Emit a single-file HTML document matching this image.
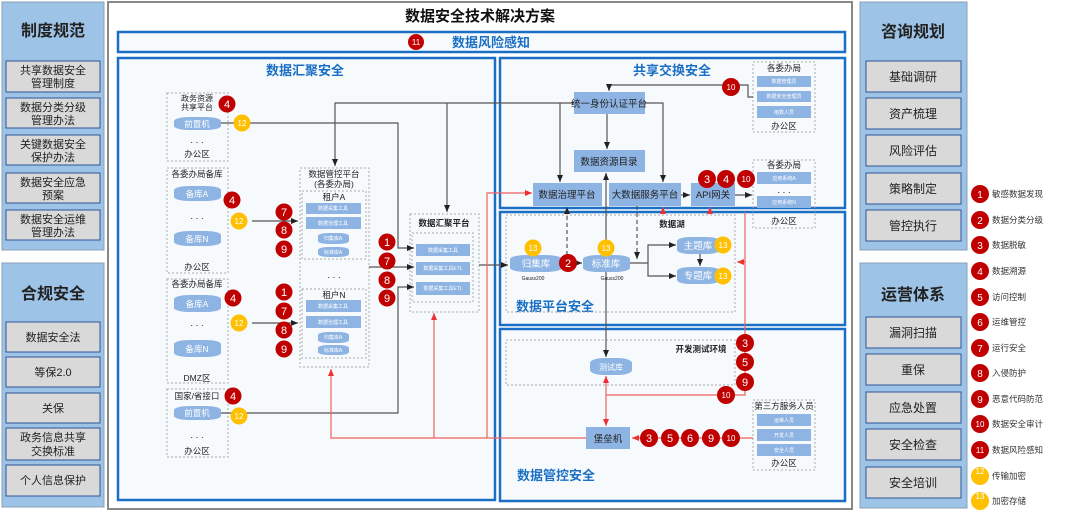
<!DOCTYPE html>
<html><head><meta charset="utf-8"><style>
html,body{margin:0;padding:0;background:#fff;}
svg{display:block;font-family:"Liberation Sans","Noto Sans CJK SC",sans-serif;}
</style></head><body>
<svg width="1080" height="517" viewBox="0 0 1080 517" xmlns="http://www.w3.org/2000/svg">
<defs>
<marker id="a" markerWidth="8" markerHeight="8" refX="7" refY="4" orient="auto" markerUnits="userSpaceOnUse"><path d="M0,1 L7,4 L0,7 z" fill="#222"/></marker>
<marker id="r" markerWidth="8" markerHeight="8" refX="7" refY="4" orient="auto" markerUnits="userSpaceOnUse"><path d="M0,1 L7,4 L0,7 z" fill="#f03030"/></marker>
</defs>
<rect width="1080" height="517" fill="#fff"/>

<!-- Left panels -->
<g font-size="11" fill="#222" text-anchor="middle">
<rect x="2" y="2" width="102" height="248" fill="#9dc3e6" stroke="#8aa0b8"/>
<text x="53" y="36" font-size="16" font-weight="bold">制度规范</text>
<rect x="6" y="61" width="94" height="31" fill="#d9d9d9" stroke="#2f5597"/><text x="53" y="74">共享数据安全</text><text x="53" y="87">管理制度</text>
<rect x="6" y="98" width="94" height="30" fill="#d9d9d9" stroke="#2f5597"/><text x="53" y="111">数据分类分级</text><text x="53" y="124">管理办法</text>
<rect x="6" y="135" width="94" height="30" fill="#d9d9d9" stroke="#2f5597"/><text x="53" y="148">关键数据安全</text><text x="53" y="161">保护办法</text>
<rect x="6" y="173" width="94" height="30" fill="#d9d9d9" stroke="#2f5597"/><text x="53" y="186">数据安全应急</text><text x="53" y="199">预案</text>
<rect x="6" y="210" width="94" height="30" fill="#d9d9d9" stroke="#2f5597"/><text x="53" y="223">数据安全运维</text><text x="53" y="236">管理办法</text>

<rect x="2" y="263" width="102" height="244" fill="#9dc3e6" stroke="#8aa0b8"/>
<text x="53" y="299" font-size="16" font-weight="bold">合规安全</text>
<rect x="6" y="322" width="94" height="30" fill="#d9d9d9" stroke="#2f5597"/><text x="53" y="341">数据安全法</text>
<rect x="6" y="357" width="94" height="30" fill="#d9d9d9" stroke="#2f5597"/><text x="53" y="376">等保2.0</text>
<rect x="6" y="393" width="94" height="30" fill="#d9d9d9" stroke="#2f5597"/><text x="53" y="412">关保</text>
<rect x="6" y="428" width="94" height="32" fill="#d9d9d9" stroke="#2f5597"/><text x="53" y="441">政务信息共享</text><text x="53" y="455">交换标准</text>
<rect x="6" y="465" width="94" height="31" fill="#d9d9d9" stroke="#2f5597"/><text x="53" y="484">个人信息保护</text>

<!-- Right panels -->
<rect x="860" y="2" width="107" height="248" fill="#9dc3e6" stroke="#8aa0b8"/>
<text x="913" y="37" font-size="16" font-weight="bold">咨询规划</text>
<rect x="866" y="61" width="95" height="31" fill="#d9d9d9" stroke="#2f5597"/><text x="913" y="81" font-size="12">基础调研</text>
<rect x="866" y="98" width="95" height="31" fill="#d9d9d9" stroke="#2f5597"/><text x="913" y="118" font-size="12">资产梳理</text>
<rect x="866" y="135" width="95" height="31" fill="#d9d9d9" stroke="#2f5597"/><text x="913" y="155" font-size="12">风险评估</text>
<rect x="866" y="173" width="95" height="31" fill="#d9d9d9" stroke="#2f5597"/><text x="913" y="193" font-size="12">策略制定</text>
<rect x="866" y="210" width="95" height="31" fill="#d9d9d9" stroke="#2f5597"/><text x="913" y="230" font-size="12">管控执行</text>

<rect x="860" y="263" width="107" height="245" fill="#9dc3e6" stroke="#8aa0b8"/>
<text x="913" y="300" font-size="16" font-weight="bold">运营体系</text>
<rect x="866" y="317" width="95" height="31" fill="#d9d9d9" stroke="#2f5597"/><text x="913" y="337" font-size="12">漏洞扫描</text>
<rect x="866" y="354" width="95" height="31" fill="#d9d9d9" stroke="#2f5597"/><text x="913" y="374" font-size="12">重保</text>
<rect x="866" y="392" width="95" height="31" fill="#d9d9d9" stroke="#2f5597"/><text x="913" y="412" font-size="12">应急处置</text>
<rect x="866" y="429" width="95" height="31" fill="#d9d9d9" stroke="#2f5597"/><text x="913" y="449" font-size="12">安全检查</text>
<rect x="866" y="467" width="95" height="31" fill="#d9d9d9" stroke="#2f5597"/><text x="913" y="487" font-size="12">安全培训</text>
</g>

<!-- Legend -->
<g font-size="8.5" fill="#333">
<g fill="#c00000"><circle cx="980" cy="194" r="9"/><circle cx="980" cy="220" r="9"/><circle cx="980" cy="245" r="9"/><circle cx="980" cy="271" r="9"/><circle cx="980" cy="297" r="9"/><circle cx="980" cy="322" r="9"/><circle cx="980" cy="348" r="9"/><circle cx="980" cy="373" r="9"/><circle cx="980" cy="399" r="9"/><circle cx="980" cy="424" r="9"/><circle cx="980" cy="450" r="9"/></g>
<g fill="#ffc000"><circle cx="980" cy="476" r="9"/><circle cx="980" cy="501" r="9"/></g>
<g fill="#fff" text-anchor="middle" font-size="10"><text x="980" y="198">1</text><text x="980" y="224">2</text><text x="980" y="249">3</text><text x="980" y="275">4</text><text x="980" y="301">5</text><text x="980" y="326">6</text><text x="980" y="352">7</text><text x="980" y="377">8</text><text x="980" y="403">9</text><text x="980" y="427" font-size="8">10</text><text x="980" y="453" font-size="8">11</text><text x="980" y="474" font-size="8">12</text><text x="980" y="499" font-size="8">13</text></g>
<text x="992" y="197">敏感数据发现</text><text x="992" y="223">数据分类分级</text><text x="992" y="248">数据脱敏</text><text x="992" y="274">数据溯源</text><text x="992" y="300">访问控制</text><text x="992" y="325">运维管控</text><text x="992" y="351">运行安全</text><text x="992" y="376">入侵防护</text><text x="992" y="402">恶意代码防范</text><text x="992" y="427">数据安全审计</text><text x="992" y="453">数据风险感知</text><text x="992" y="479">传输加密</text><text x="992" y="504">加密存储</text>
</g>

<!-- Main frame -->
<rect x="108" y="2" width="744" height="507" fill="#fff" stroke="#888" stroke-width="2"/>
<text x="480" y="21" font-size="15" font-weight="bold" text-anchor="middle" fill="#111">数据安全技术解决方案</text>
<rect x="118" y="32" width="727" height="20" fill="#f7fafd" stroke="#1a6fc4" stroke-width="2.5"/>
<circle cx="416" cy="42" r="8" fill="#c00000"/><text x="416" y="45" font-size="8" fill="#fff" text-anchor="middle">11</text>
<text x="491" y="47" font-size="13" font-weight="bold" fill="#1a6fc4" text-anchor="middle">数据风险感知</text>

<!-- sections -->
<g fill="#f7fafd" stroke="#1a6fc4" stroke-width="2.5">
<rect x="118" y="58" width="377" height="442"/>
<rect x="500" y="58" width="345" height="150"/>
<rect x="500" y="212" width="345" height="113"/>
<rect x="500" y="329" width="345" height="172"/>
</g>
<g font-size="13" font-weight="bold" fill="#1a6fc4" text-anchor="middle">
<text x="305" y="75">数据汇聚安全</text><text x="672" y="75">共享交换安全</text><text x="555" y="311">数据平台安全</text><text x="556" y="480">数据管控安全</text>
</g>

<!-- dotted boxes -->
<g fill="none" stroke="#aaa" stroke-dasharray="2,2" stroke-width="1">
<rect x="167" y="93" width="61" height="68"/>
<rect x="167" y="168" width="61" height="105"/>
<rect x="167" y="279" width="61" height="104"/>
<rect x="167" y="389" width="61" height="68"/>
<rect x="300" y="168" width="69" height="199"/>
<rect x="302" y="191" width="64" height="68"/>
<rect x="302" y="289" width="64" height="69"/>
<rect x="410" y="214" width="69" height="98"/>
<rect x="412" y="233" width="61" height="69"/>
<rect x="753" y="62" width="62" height="70"/>
<rect x="753" y="160" width="62" height="68"/>
<rect x="506" y="215" width="229" height="97"/>
<rect x="506" y="340" width="229" height="45"/>
<rect x="753" y="400" width="62" height="70"/>
</g>

<!-- lines black -->
<g fill="none" stroke="#555" stroke-width="1.2">
<path d="M574,103 H335 V166" marker-end="url(#a)"/>
<path d="M447,103 V212" marker-end="url(#a)"/>
<path d="M221,123 H398 V248 H414" marker-end="url(#a)"/>
<path d="M252,221 H298" marker-end="url(#a)"/>
<path d="M252,323 H298" marker-end="url(#a)"/>
<path d="M369,267 H414" marker-end="url(#a)"/>
<path d="M221,413 H398 V287 H414" marker-end="url(#a)"/>
<path d="M479,265 H508" marker-end="url(#a)"/>
<path d="M560,103 V182" marker-end="url(#a)"/>
<path d="M607,114 V149" marker-end="url(#a)"/>
<path d="M645,103 H663 V182" marker-end="url(#a)"/>
<path d="M681,195 H690" marker-end="url(#a)"/>
<path d="M735,195 H752" marker-end="url(#a)"/>
<path d="M753,97 H748 V85 H609 V91" marker-end="url(#a)"/>
<path d="M606,255 V173" marker-end="url(#a)"/>
<path d="M606,272 V357" marker-end="url(#a)"/>
<path d="M630,263 H648 V245 H676" marker-end="url(#a)"/>
<path d="M648,263 V276 H676" marker-end="url(#a)"/>
<path d="M700,254 V266" marker-end="url(#a)"/>
<path d="M574,263 H582" marker-end="url(#a)"/>
<path d="M567,255 V207" stroke-dasharray="4,3" marker-end="url(#a)"/>
<path d="M637,206 V259" stroke-dasharray="4,3" marker-end="url(#a)"/>
</g>
<!-- red lines -->
<g fill="none" stroke="#f06060" stroke-width="1.2">
<path d="M586,438 H331 V369" marker-end="url(#r)"/>
<path d="M434,438 V313" marker-end="url(#r)"/>
<path d="M487,438 V193 H532" marker-end="url(#r)"/>
<path d="M606,395 V376" marker-end="url(#r)"/>
<path d="M606,395 V426" marker-end="url(#r)"/>
<path d="M606,395 H745 V212"/>
<path d="M745,262 H737" marker-end="url(#r)"/>
<path d="M753,438 H632" marker-end="url(#r)"/>
<path d="M663,212 V207" marker-end="url(#r)"/>
<path d="M710,212 V207" marker-end="url(#r)"/>
</g>

<!-- boxes -->
<g fill="#8eb4e3">
<rect x="574" y="92" width="71" height="22"/>
<rect x="574" y="150" width="71" height="22"/>
<rect x="533" y="183" width="69" height="23"/>
<rect x="609" y="183" width="72" height="23"/>
<rect x="691" y="183" width="44" height="23"/>
<rect x="586" y="427" width="44" height="22"/>
<rect x="757" y="76" width="54" height="11"/><rect x="757" y="91" width="54" height="11"/><rect x="757" y="106" width="54" height="12"/>
<rect x="757" y="172" width="54" height="12"/><rect x="757" y="196" width="54" height="12"/>
<rect x="757" y="414" width="54" height="12"/><rect x="757" y="429" width="54" height="12"/><rect x="757" y="444" width="54" height="12"/>
<rect x="306" y="203" width="55" height="11"/><rect x="306" y="217" width="55" height="12"/>
<rect x="318" y="233" width="31" height="11" rx="10" ry="3"/><rect x="318" y="247" width="31" height="10" rx="10" ry="3"/>
<rect x="306" y="300" width="55" height="12"/><rect x="306" y="316" width="55" height="12"/>
<rect x="318" y="332" width="31" height="11" rx="10" ry="3"/><rect x="318" y="345" width="31" height="10" rx="10" ry="3"/>
<rect x="416" y="244" width="54" height="12"/><rect x="416" y="262" width="54" height="13"/><rect x="416" y="282" width="54" height="13"/>
<rect x="174" y="117" width="47" height="13" rx="16" ry="4"/>
<rect x="174" y="186" width="47" height="15" rx="16" ry="4"/>
<rect x="174" y="231" width="47" height="15" rx="16" ry="4"/>
<rect x="174" y="295" width="47" height="17" rx="16" ry="4"/>
<rect x="174" y="340" width="47" height="17" rx="16" ry="4"/>
<rect x="174" y="406" width="47" height="14" rx="16" ry="4"/>
<rect x="510" y="255" width="52" height="17" rx="18" ry="4"/>
<rect x="583" y="255" width="47" height="17" rx="16" ry="4"/>
<rect x="677" y="237" width="43" height="17" rx="14" ry="4"/>
<rect x="677" y="267" width="43" height="17" rx="14" ry="4"/>
<rect x="590" y="358" width="42" height="17" rx="14" ry="5"/>
</g>

<!-- box labels -->
<g font-size="9.5" fill="#222" text-anchor="middle">
<text x="609" y="107">统一身份认证平台</text>
<text x="609" y="165">数据资源目录</text>
<text x="567" y="198">数据治理平台</text>
<text x="645" y="198">大数据服务平台</text>
<text x="713" y="198">API网关</text>
<text x="608" y="442">堡垒机</text>
<text x="784" y="71" font-size="8.5">各委办局</text><text x="784" y="129" font-size="8.5">办公区</text>
<text x="784" y="168" font-size="8.5">各委办局</text><text x="784" y="193">. . .</text><text x="784" y="224" font-size="8.5">办公区</text>
<text x="784" y="409" font-size="8.5">第三方服务人员</text><text x="784" y="466" font-size="8.5">办公区</text>
<text x="672" y="227" font-size="8.5" font-weight="bold">数据湖</text>
<text x="701" y="352" font-size="8.5" font-weight="bold">开发测试环境</text>
<text x="536" y="267" fill="#fff">归集库</text>
<text x="606" y="267" fill="#fff">标准库</text>
<text x="698" y="249" fill="#fff">主题库</text>
<text x="698" y="279" fill="#fff">专题库</text>
<text x="611" y="370" fill="#fff" font-size="8">测试库</text>
<text x="533" y="280" font-size="5">Gauss200</text><text x="612" y="280" font-size="5">Gauss200</text>
<text x="197" y="101" font-size="8">政务资源</text><text x="197" y="110" font-size="8">共享平台</text>
<text x="197" y="127" fill="#fff" font-size="8.5">前置机</text><text x="197" y="143">. . .</text><text x="197" y="157" font-size="8.5">办公区</text>
<text x="197" y="177" font-size="8.5">各委办局备库</text>
<text x="197" y="197" fill="#fff" font-size="8.5">备库A</text><text x="197" y="219">. . .</text><text x="197" y="242" fill="#fff" font-size="8.5">备库N</text><text x="197" y="270" font-size="8.5">办公区</text>
<text x="197" y="287" font-size="8.5">各委办局备库</text>
<text x="197" y="307" fill="#fff" font-size="8.5">备库A</text><text x="197" y="326">. . .</text><text x="197" y="352" fill="#fff" font-size="8.5">备库N</text><text x="197" y="381" font-size="8.5">DMZ区</text>
<text x="197" y="399" font-size="8.5">国家/省接口</text>
<text x="197" y="416" fill="#fff" font-size="8.5">前置机</text><text x="197" y="438">. . .</text><text x="197" y="454" font-size="8.5">办公区</text>
<text x="334" y="177" font-size="8.5">数据管控平台</text><text x="334" y="187" font-size="8.5">(各委办局)</text>
<text x="334" y="200" font-size="8.5">租户A</text><text x="334" y="298" font-size="8.5">租户N</text>
<text x="334" y="278">. . .</text>
<text x="444" y="226" font-size="8.5" font-weight="bold">数据汇聚平台</text>
</g>
<g font-size="5" fill="#fff" text-anchor="middle">
<text x="784" y="83">数据管理员</text><text x="784" y="98">数据安全管理员</text><text x="784" y="114">用数人员</text>
<text x="784" y="180">应用系统A</text><text x="784" y="204">应用系统N</text>
<text x="784" y="422">运维人员</text><text x="784" y="437">开发人员</text><text x="784" y="452">安全人员</text>
<text x="333" y="210">数据采集工具</text><text x="333" y="225">数据治理工具</text><text x="333" y="240">归集库A</text><text x="333" y="254">标准库A</text>
<text x="333" y="308">数据采集工具</text><text x="333" y="324">数据治理工具</text><text x="333" y="339">归集库A</text><text x="333" y="352">标准库A</text>
<text x="443" y="252">数据采集工具</text><text x="443" y="270">数据采集工具ETL</text><text x="443" y="290">数据采集工具ETL</text>
</g>

<!-- badges -->
<g fill="#c00000">
<circle cx="227" cy="104" r="8.5"/><circle cx="232" cy="200" r="8.5"/><circle cx="233" cy="298" r="8.5"/><circle cx="233" cy="396" r="8.5"/>
<circle cx="284" cy="212" r="8.5"/><circle cx="284" cy="230" r="8.5"/><circle cx="284" cy="249" r="8.5"/>
<circle cx="284" cy="292" r="8.5"/><circle cx="284" cy="311" r="8.5"/><circle cx="284" cy="330" r="8.5"/><circle cx="284" cy="349" r="8.5"/>
<circle cx="387" cy="242" r="8.5"/><circle cx="387" cy="261" r="8.5"/><circle cx="387" cy="280" r="8.5"/><circle cx="387" cy="298" r="8.5"/>
<circle cx="731" cy="87" r="9"/><circle cx="707" cy="179" r="9"/><circle cx="726" cy="179" r="9"/><circle cx="746" cy="179" r="9"/>
<circle cx="568" cy="263" r="9"/>
<circle cx="745" cy="343" r="9"/><circle cx="745" cy="362" r="9"/><circle cx="745" cy="382" r="9"/><circle cx="726" cy="395" r="9"/>
<circle cx="649" cy="438" r="9"/><circle cx="670" cy="438" r="9"/><circle cx="690" cy="438" r="9"/><circle cx="711" cy="438" r="9"/><circle cx="731" cy="438" r="9"/>
</g>
<g fill="#ffc000">
<circle cx="242" cy="123" r="8.5"/><circle cx="239" cy="221" r="8.5"/><circle cx="239" cy="323" r="8.5"/><circle cx="239" cy="416" r="8.5"/>
<circle cx="533" cy="248" r="8.5"/><circle cx="606" cy="248" r="8.5"/><circle cx="723" cy="245" r="8.5"/><circle cx="723" cy="276" r="8.5"/>
</g>
<g fill="#fff" font-size="11" text-anchor="middle">
<text x="227" y="108">4</text><text x="232" y="204">4</text><text x="233" y="302">4</text><text x="233" y="400">4</text>
<text x="284" y="216">7</text><text x="284" y="234">8</text><text x="284" y="253">9</text>
<text x="284" y="296">1</text><text x="284" y="315">7</text><text x="284" y="334">8</text><text x="284" y="353">9</text>
<text x="387" y="246">1</text><text x="387" y="265">7</text><text x="387" y="284">8</text><text x="387" y="302">9</text>
<text x="731" y="90" font-size="8">10</text><text x="707" y="183">3</text><text x="726" y="183">4</text><text x="746" y="182" font-size="8">10</text>
<text x="568" y="267">2</text>
<text x="745" y="347">3</text><text x="745" y="366">5</text><text x="745" y="386">9</text><text x="726" y="398" font-size="8">10</text>
<text x="649" y="442">3</text><text x="670" y="442">5</text><text x="690" y="442">6</text><text x="711" y="442">9</text><text x="731" y="441" font-size="8">10</text>
<g font-size="8"><text x="242" y="126">12</text><text x="239" y="224">12</text><text x="239" y="326">12</text><text x="239" y="419">12</text>
<text x="533" y="251">13</text><text x="606" y="251">13</text><text x="723" y="248">13</text><text x="723" y="279">13</text></g>
</g>
</svg>
</body></html>
